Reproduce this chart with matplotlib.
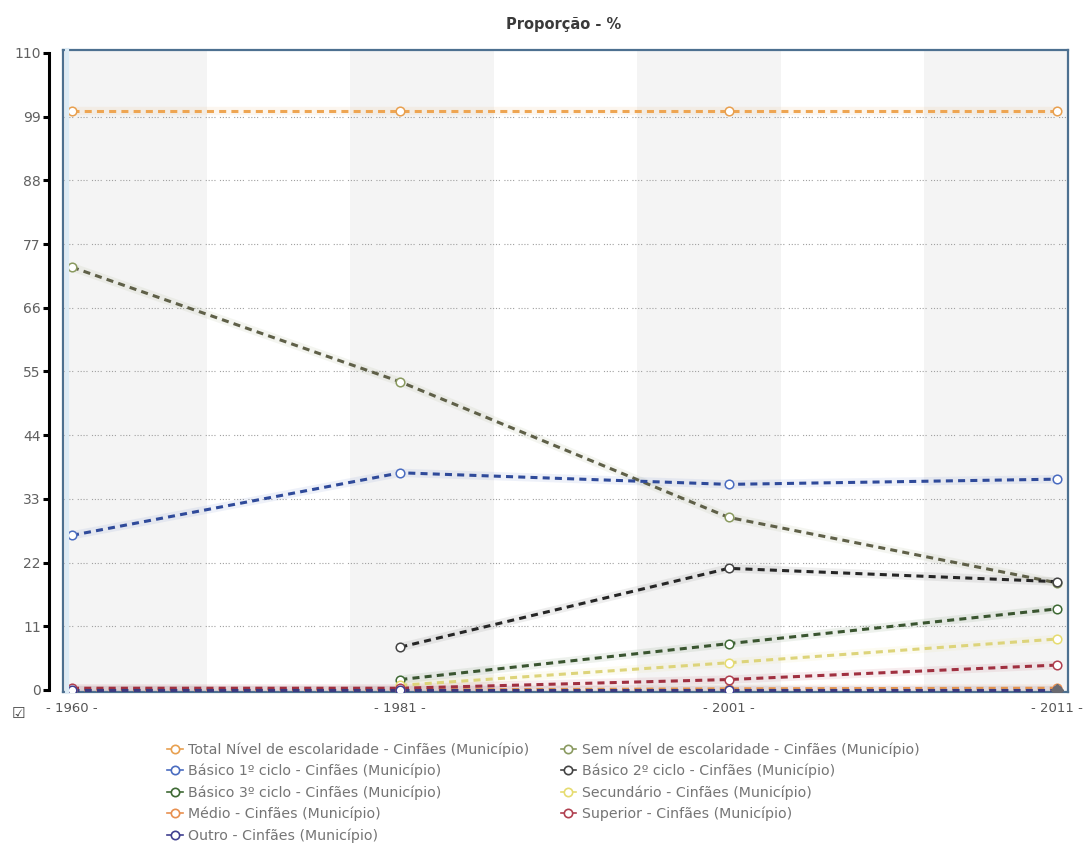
import numpy as np
import matplotlib
matplotlib.use("Agg")
import matplotlib.pyplot as plt
from matplotlib.lines import Line2D

# ---- data ----
years = ["1960", "1981", "2001", "2011"]
total = [100.0, 100.0, 100.0, 100.0]
sem_nivel = [73.0, 53.2, 29.8, 18.5]
basico1 = [26.7, 37.5, 35.5, 36.4]
basico2 = [np.nan, 7.4, 21.0, 18.7]
basico3 = [np.nan, 1.8, 8.0, 14.0]
secundario = [np.nan, 0.8, 4.7, 8.8]
medio = [0.0, 0.0, 0.2, 0.3]
superior = [0.3, 0.3, 1.8, 4.3]
outro = [0.0, 0.0, 0.0, 0.0]
y_ticks = [0, 11, 22, 33, 44, 55, 66, 77, 88, 99, 110]

suffix = " - Cinfães (Município)"
series = [
    ("Total Nível de escolaridade", total, "#eea552", "#e8a050"),
    ("Sem nível de escolaridade", sem_nivel, "#5f6048", "#8a9a60"),
    ("Básico 1º ciclo", basico1, "#2f4a9a", "#4a6cc0"),
    ("Básico 2º ciclo", basico2, "#262626", "#444444"),
    ("Básico 3º ciclo", basico3, "#3a5530", "#3f6a35"),
    ("Secundário", secundario, "#ddd47a", "#e6dc70"),
    ("Médio", medio, "#e39450", "#e89050"),
    ("Superior", superior, "#a03040", "#b04050"),
    ("Outro", outro, "#3a3a80", "#404090"),
]

fig = plt.figure(figsize=(10.88, 8.63), dpi=100)
ax = fig.add_axes([63 / 1088, 1 - 692 / 863, (1068 - 63) / 1088, (692 - 50) / 863])

x = np.arange(len(years))
xmin, xmax = -0.0274, 3.0335
ax.set_xlim(xmin, xmax)
ax.set_ylim(-0.35, 110.5)

# alternating background bands
nb = 7
w = (xmax - xmin) / nb
for i in range(0, nb, 2):
    ax.axvspan(xmin + i * w, xmin + (i + 1) * w, color="#f4f4f4", zorder=0, lw=0)

# dotted horizontal grid
for t in y_ticks[1:-1]:
    ax.axhline(t, color="#a0a0a0", lw=0.8, ls=(0, (1, 1.6, 1, 1.6, 1, 1.6, 1, 4)), zorder=1)

# lines: soft glow + thick dashes + hollow circle markers
for name, vals, lc, mc in series:
    ax.plot(x, vals, color=mc, lw=6, alpha=0.09, solid_capstyle="round", zorder=2)
    ax.plot(x, vals, color=lc, lw=2.2, ls=(0, (2.3, 1.7)), zorder=3)
    ax.plot(x, vals, ls="none", marker="o", ms=6.2, mfc="white", mec=mc, mew=1.1, zorder=4)

# hovered point
ax.plot(x[-1], outro[-1], ls="none", marker="D", ms=6.5, color="#6a6a70", zorder=5)

# axes styling
ax.set_yticks(y_ticks)
ax.set_xticks(x)
ax.set_xticklabels(["- %s -" % y for y in years])
ax.tick_params(axis="x", length=0, pad=7, labelsize=9.5, labelcolor="#555555")
ax.tick_params(axis="y", direction="out", length=4, width=2.2, color="black",
               pad=2, labelsize=10, labelcolor="#606060")

ax.spines["left"].set_position(("outward", 10))
ax.spines["left"].set_color("black")
ax.spines["left"].set_linewidth(2.2)
ax.spines["left"].set_bounds(0, 110)
for s in ["top", "right", "bottom"]:
    ax.spines[s].set_color("#4d7090")
    ax.spines[s].set_linewidth(1.6)
ax.plot([0, 0], [0, 1], transform=ax.transAxes, color="#4d7090", lw=1.6,
        clip_on=False, zorder=6)
ax.plot([0.004, 0.004], [0, 1], transform=ax.transAxes, color="#dcebf5", lw=3,
        clip_on=False, zorder=5)

fig.text(564 / 1088, 1 - 25 / 863, "Proporção - %", ha="center", va="center",
         fontsize=10.5, fontweight="bold", color="#3a3a3a")

# checkbox
fig.text(18 / 1088, 1 - 713 / 863, "☑", ha="center", va="center",
         fontsize=11, color="#444444")

# legend (two columns, row-major order as in the original)
handles = {}
for name, vals, lc, mc in series:
    handles[name] = Line2D([], [], color=mc, lw=1.2, marker="o", ms=6,
                           mfc="white", mec=mc, mew=1.2)
order = ["Total Nível de escolaridade", "Básico 1º ciclo", "Básico 3º ciclo",
         "Médio", "Outro", "Sem nível de escolaridade", "Básico 2º ciclo",
         "Secundário", "Superior"]
leg = fig.legend([handles[n] for n in order], [n + suffix for n in order],
                 loc="upper left", bbox_to_anchor=(160 / 1088, 1 - 735 / 863),
                 ncol=2, frameon=False, fontsize=10.2, handlelength=1.1,
                 handletextpad=0.4, labelspacing=0.5, columnspacing=2.2,
                 borderpad=0)
for t in leg.get_texts():
    t.set_color("#757575")

fig.savefig("out.png", dpi=100)
